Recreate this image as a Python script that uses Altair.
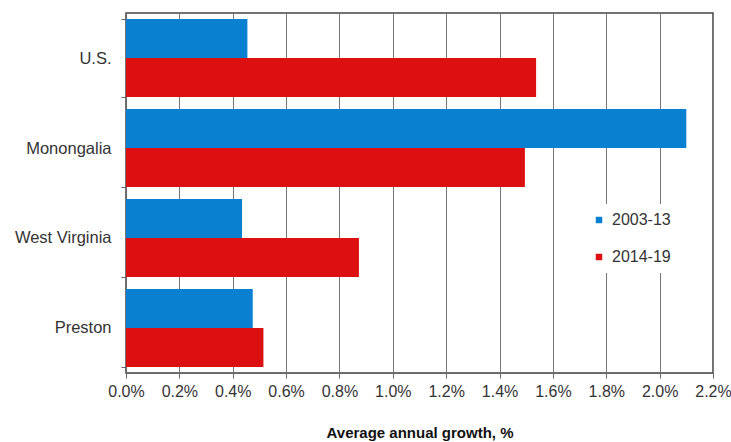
import altair as alt
import pandas as pd

categories = ["U.S.", "Monongalia", "West Virginia", "Preston"]
series_names = ["2003-13", "2014-19"]
values_2003_13 = [0.455, 2.10, 0.435, 0.475]
values_2014_19 = [1.537, 1.495, 0.873, 0.515]
x_ticks = [0.0, 0.2, 0.4, 0.6, 0.8, 1.0, 1.2, 1.4, 1.6, 1.8, 2.0, 2.2]
colors = ["#0A80D0", "#DC1010"]

rows = []
for c, a, b in zip(categories, values_2003_13, values_2014_19):
    rows.append({"region": c, "period": series_names[0], "growth": a})
    rows.append({"region": c, "period": series_names[1], "growth": b})
df = pd.DataFrame(rows)

FONT = "Liberation Sans"

chart = alt.Chart(df).mark_bar().encode(
    x=alt.X("growth:Q",
            scale=alt.Scale(domain=[0, 2.2], nice=False, zero=True),
            axis=alt.Axis(values=x_ticks,
                          labelExpr="format(datum.value, '.1f') + '%'",
                          title="Average annual growth, %",
                          titleFontWeight="bold",
                          titleFontSize=15,
                          titlePadding=26,
                          titleColor="#111",
                          labelFontSize=16,
                          labelColor="#333",
                          labelPadding=5,
                          labelFlush=False,
                          grid=True,
                          gridColor="#777",
                          gridWidth=1,
                          domainColor="#666",
                          tickColor="#666",
                          tickSize=5)),
    y=alt.Y("region:N", sort=categories,
            scale=alt.Scale(paddingInner=0.1333, paddingOuter=0.0667),
            axis=alt.Axis(title=None,
                          labelFontSize=16.5,
                          labelColor="#333",
                          labelPadding=10,
                          tickBand="extent",
                          tickSize=5,
                          tickColor="#666",
                          domainColor="#666",
                          grid=False)),
    yOffset=alt.YOffset("period:N", sort=series_names,
                        scale=alt.Scale(paddingInner=0, paddingOuter=0)),
    color=alt.Color("period:N", sort=series_names,
                    scale=alt.Scale(domain=series_names, range=colors),
                    legend=alt.Legend(title=None,
                                      orient="none",
                                      legendX=457,
                                      legendY=191,
                                      symbolType="square",
                                      symbolSize=42,
                                      symbolStrokeWidth=0,
                                      labelFontSize=16,
                                      labelColor="#333",
                                      labelOffset=5,
                                      rowPadding=21,
                                      padding=8,
                                      fillColor="white")),
).properties(
    width=587,
    height=360,
    autosize=alt.AutoSizeParams(type="none"),
    padding={"left": 126, "top": 13, "right": 18, "bottom": 69},
).configure(
    font=FONT,
).configure_view(
    stroke="#444",
    strokeWidth=1.5,
)

chart.save("out.html", embed_options={"renderer": "svg", "actions": False})
